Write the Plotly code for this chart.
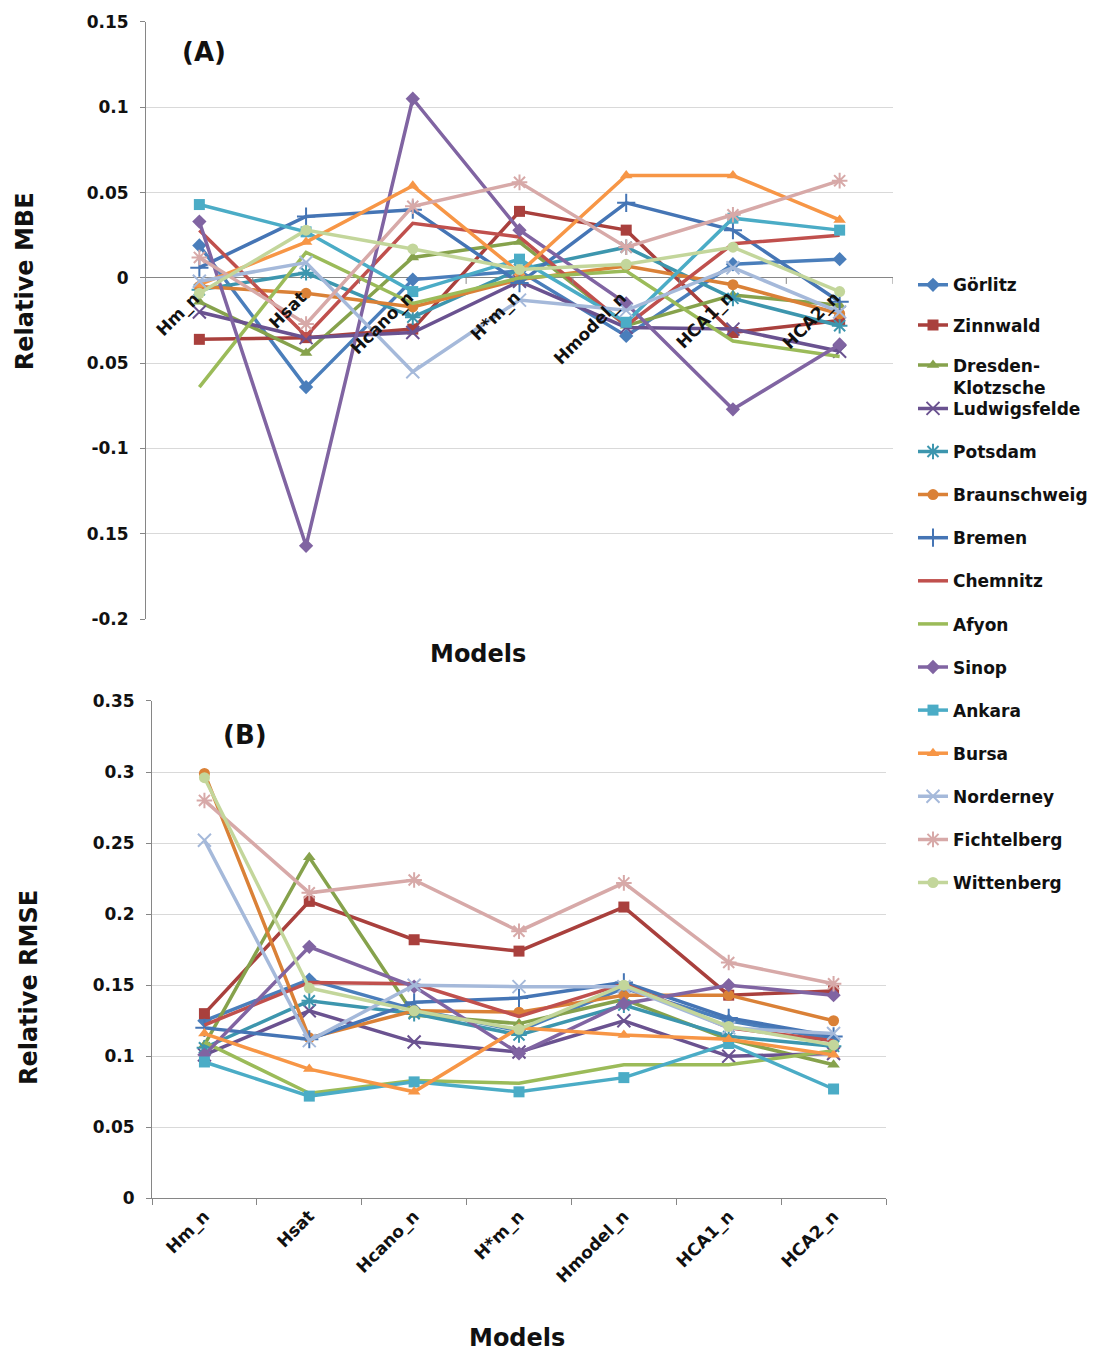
import plotly.graph_objects as go

# Model categories (x axis of both panels)
models = ["Hm_n", "Hsat", "Hcano_n", "H*m_n", "Hmodel_n", "HCA1_n", "HCA2_n"]

stations = ["Görlitz", "Zinnwald", "Dresden-Klotzsche", "Ludwigsfelde", "Potsdam",
            "Braunschweig", "Bremen", "Chemnitz", "Afyon", "Sinop", "Ankara",
            "Bursa", "Norderney", "Fichtelberg", "Wittenberg"]

# Relative MBE per station (panel A)
mbe_gorlitz = [0.019, -0.064, -0.001, 0.004, -0.034, 0.008, 0.011]
mbe_zinnwald = [-0.036, -0.035, -0.030, 0.039, 0.028, -0.032, -0.025]
mbe_dresden = [-0.014, -0.044, 0.012, 0.021, -0.028, -0.010, -0.016]
mbe_ludwigsfelde = [-0.020, -0.035, -0.032, -0.002, -0.029, -0.030, -0.043]
mbe_potsdam = [-0.007, 0.003, -0.023, 0.005, 0.018, -0.012, -0.028]
mbe_braunschweig = [-0.005, -0.009, -0.017, -0.001, 0.007, -0.004, -0.021]
mbe_bremen = [0.006, 0.036, 0.040, -0.003, 0.044, 0.028, -0.014]
mbe_chemnitz = [0.028, -0.034, 0.032, 0.024, -0.028, 0.020, 0.025]
mbe_afyon = [-0.064, 0.015, -0.015, 0.000, 0.004, -0.037, -0.046]
mbe_sinop = [0.033, -0.157, 0.105, 0.028, -0.015, -0.077, -0.039]
mbe_ankara = [0.043, 0.027, -0.008, 0.011, -0.026, 0.035, 0.028]
mbe_bursa = [-0.004, 0.021, 0.054, 0.003, 0.060, 0.060, 0.034]
mbe_norderney = [-0.002, 0.009, -0.055, -0.013, -0.019, 0.006, -0.020]
mbe_fichtelberg = [0.012, -0.027, 0.042, 0.056, 0.018, 0.037, 0.057]
mbe_wittenberg = [-0.009, 0.028, 0.017, 0.005, 0.008, 0.018, -0.008]

# Relative RMSE per station (panel B)
rmse_gorlitz = [0.125, 0.154, 0.133, 0.118, 0.148, 0.125, 0.112]
rmse_zinnwald = [0.130, 0.209, 0.182, 0.174, 0.205, 0.143, 0.146]
rmse_dresden = [0.108, 0.240, 0.129, 0.123, 0.140, 0.112, 0.094]
rmse_ludwigsfelde = [0.101, 0.132, 0.110, 0.103, 0.125, 0.100, 0.102]
rmse_potsdam = [0.106, 0.139, 0.130, 0.115, 0.136, 0.114, 0.107]
rmse_braunschweig = [0.299, 0.113, 0.132, 0.131, 0.143, 0.143, 0.125]
rmse_bremen = [0.120, 0.112, 0.138, 0.141, 0.152, 0.127, 0.114]
rmse_chemnitz = [0.122, 0.152, 0.151, 0.128, 0.151, 0.120, 0.111]
rmse_afyon = [0.110, 0.074, 0.083, 0.081, 0.094, 0.094, 0.104]
rmse_sinop = [0.101, 0.177, 0.149, 0.102, 0.137, 0.150, 0.143]
rmse_ankara = [0.096, 0.072, 0.082, 0.075, 0.085, 0.109, 0.077]
rmse_bursa = [0.116, 0.091, 0.075, 0.120, 0.115, 0.112, 0.101]
rmse_norderney = [0.252, 0.111, 0.150, 0.149, 0.149, 0.120, 0.116]
rmse_fichtelberg = [0.280, 0.215, 0.224, 0.188, 0.222, 0.166, 0.151]
rmse_wittenberg = [0.296, 0.148, 0.132, 0.119, 0.150, 0.121, 0.108]

mbe_series = [mbe_gorlitz, mbe_zinnwald, mbe_dresden, mbe_ludwigsfelde, mbe_potsdam,
              mbe_braunschweig, mbe_bremen, mbe_chemnitz, mbe_afyon, mbe_sinop,
              mbe_ankara, mbe_bursa, mbe_norderney, mbe_fichtelberg, mbe_wittenberg]
rmse_series = [rmse_gorlitz, rmse_zinnwald, rmse_dresden, rmse_ludwigsfelde, rmse_potsdam,
               rmse_braunschweig, rmse_bremen, rmse_chemnitz, rmse_afyon, rmse_sinop,
               rmse_ankara, rmse_bursa, rmse_norderney, rmse_fichtelberg, rmse_wittenberg]

mbe_ticks = [0.15, 0.1, 0.05, 0, -0.05, -0.1, -0.15, -0.2]
mbe_ticktext = ["0.15", "0.1", "0.05", "0", "0.05", "-0.1", "0.15", "-0.2"]
rmse_ticks = [0.35, 0.3, 0.25, 0.2, 0.15, 0.1, 0.05, 0]
rmse_ticktext = ["0.35", "0.3", "0.25", "0.2", "0.15", "0.1", "0.05", "0"]

# Line / marker styling per station
colors = ["#4A7EBB", "#A9403D", "#86A24C", "#6A5290", "#3D96AE",
          "#DA8137", "#4575B5", "#C0504D", "#9BBB59", "#8064A2",
          "#4BACC6", "#F79646", "#A5B9DA", "#D7A9A8", "#C3D69B"]
symbols = ["diamond", "square", "triangle-up", "x-thin", "asterisk",
           "circle", "cross-thin", None, None, "diamond",
           "square", "triangle-up", "x-thin", "asterisk", "circle"]

W, H = 1100, 1356
FONT = "DejaVu Sans"
INK = "#111111"


def fx(px):
    """Horizontal page pixel -> paper fraction."""
    return px / W


def fy(px):
    """Vertical page pixel -> paper fraction (page drawn 8px down, 1340px tall)."""
    return 1 - (px - 8) / 1340


fig = go.Figure()


def add_station(i, xaxis, yaxis, values, show):
    sym = symbols[i]
    mode = "lines+markers" if sym else "lines"
    thin = sym in ("x-thin", "asterisk", "cross-thin")
    marker = dict(symbol=sym or "circle", size=13 if thin else 11, color=colors[i],
                  line=dict(color=colors[i], width=2 if thin else 0))
    fig.add_trace(go.Scatter(
        x=models, y=values, name=stations[i].replace("-", "-<br>"),
        mode=mode, line=dict(color=colors[i], width=3.5), marker=marker,
        xaxis=xaxis, yaxis=yaxis, legendgroup=stations[i], showlegend=show,
        legend="legend" if i < 3 else "legend2", cliponaxis=False))


for i in range(len(stations)):
    add_station(i, "x", "y", mbe_series[i], True)
for i in range(len(stations)):
    add_station(i, "x2", "y2", rmse_series[i], False)

axis_grey = "#868686"
grid_grey = "#D9D9D9"
tick_font = dict(family=FONT, size=17, color=INK, weight="bold")
cat_font = dict(family=FONT, size=17, color=INK, weight="bold")
legend_font = dict(family=FONT, size=17, color=INK, weight="bold")

# Panel A: category labels sit on the zero line
annotations = []
for m in models:
    annotations.append(dict(x=m, y=0, xref="x", yref="y", text=m, textangle=-45,
                             showarrow=False, xanchor="right", yanchor="top",
                             xshift=7, yshift=-7, font=cat_font))

title_font = dict(family=FONT, size=24, color=INK, weight="bold")
label_font = dict(family=FONT, size=26, color=INK, weight="bold")


def paper_text(x, y, text, font, angle=0):
    return dict(x=fx(x), y=fy(y), xref="paper", yref="paper", text=text,
                textangle=angle, showarrow=False, xanchor="center", yanchor="middle",
                font=font)


annotations += [
    paper_text(25, 280, "Relative MBE", title_font, -90),
    paper_text(29, 989, "Relative RMSE", title_font, -90),
    paper_text(478, 654, "Models", title_font),
    paper_text(517, 1340, "Models", title_font),
    paper_text(204, 50, "(A)", label_font),
    paper_text(245, 735, "(B)", label_font),
]

# Small tick marks on the zero line of panel A, between categories
shapes = []
for k in range(len(models)):
    shapes.append(dict(type="line", xref="x", yref="y", x0=k + 0.5, x1=k + 0.5,
                       ysizemode="pixel", yanchor=0, y0=0, y1=-6,
                       line=dict(color=axis_grey, width=1)))

legend_common = dict(xanchor="left", yanchor="top", font=legend_font,
                     itemwidth=30, valign="top", bgcolor="rgba(0,0,0,0)")

fig.update_layout(
    width=W, height=H, autosize=False,
    margin=dict(l=0, r=0, t=0, b=0),
    paper_bgcolor="white", plot_bgcolor="white",
    xaxis=dict(domain=[fx(146), fx(893)], type="category", range=[-0.5, 6.5],
               showticklabels=False, showgrid=False, showline=False, ticks=""),
    yaxis=dict(domain=[fy(619), fy(20)], range=[-0.2, 0.15],
               tickvals=mbe_ticks, ticktext=mbe_ticktext, tickfont=tick_font,
               showgrid=True, gridcolor=grid_grey, gridwidth=1,
               zeroline=True, zerolinecolor=axis_grey, zerolinewidth=1,
               showline=True, linecolor=axis_grey, linewidth=1,
               ticks="outside", ticklen=5, tickcolor=axis_grey,
               ticklabelstandoff=8),
    xaxis2=dict(domain=[fx(152), fx(886)], type="category", range=[-0.5, 6.5],
                anchor="y2", tickangle=-45, tickfont=cat_font,
                showgrid=False, showline=True, linecolor=axis_grey, linewidth=1,
                ticks="outside", ticklen=6, tickcolor=axis_grey, tickson="boundaries"),
    yaxis2=dict(domain=[fy(1200), fy(701)], range=[0, 0.35], anchor="x2",
                tickvals=rmse_ticks, ticktext=rmse_ticktext, tickfont=tick_font,
                showgrid=True, gridcolor=grid_grey, gridwidth=1, zeroline=False,
                showline=True, linecolor=axis_grey, linewidth=1,
                ticks="outside", ticklen=5, tickcolor=axis_grey,
                ticklabelstandoff=8),
    legend=dict(x=fx(913), y=fy(266), tracegroupgap=15, **legend_common),
    legend2=dict(x=fx(913), y=fy(390), tracegroupgap=18, **legend_common),
    annotations=annotations,
    shapes=shapes,
    showlegend=True,
)

fig.write_html("out.html")
